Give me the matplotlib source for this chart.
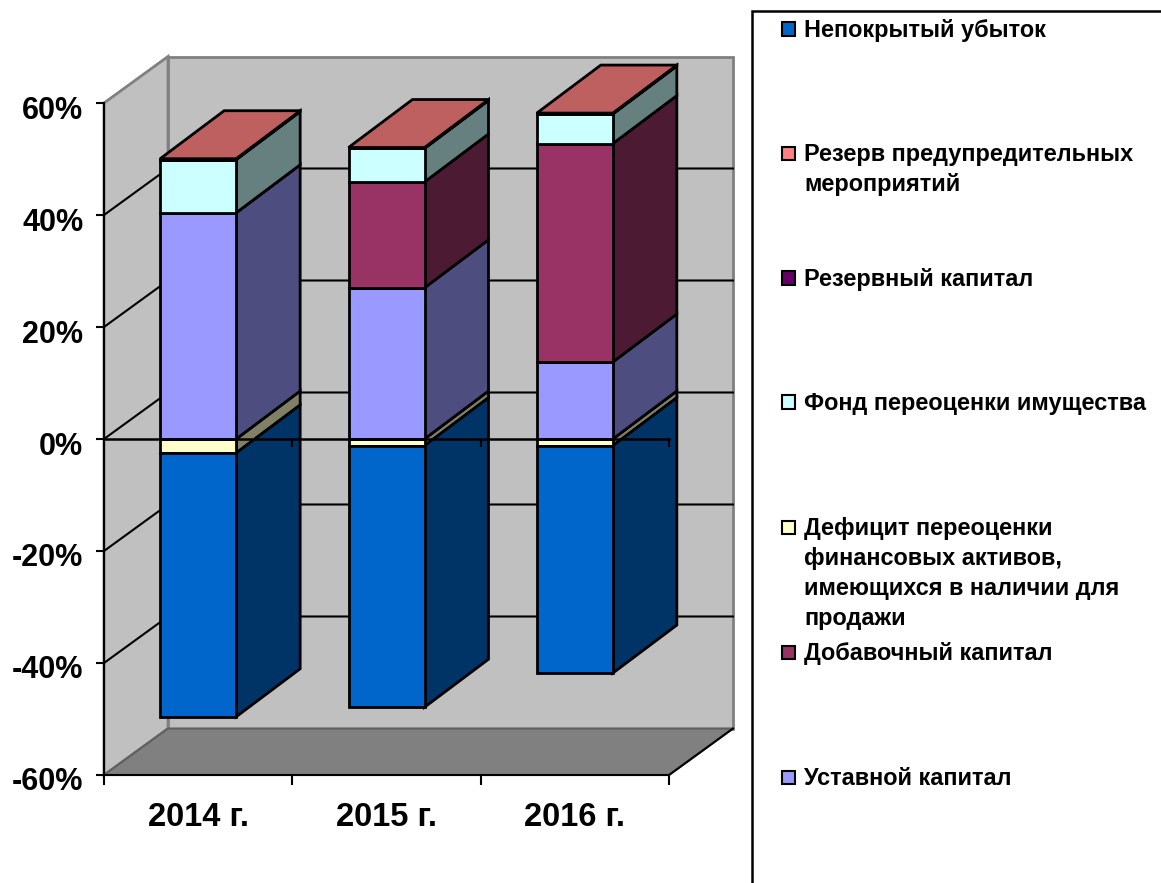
"""Stacked bars with the old Excel 3D look"""
import matplotlib
matplotlib.use("Agg")
import matplotlib.pyplot as plt
from matplotlib.patches import Polygon, Rectangle
from matplotlib.transforms import ScaledTranslation

plt.rcParams['font.family'] = ['Liberation Sans', 'DejaVu Sans']
plt.rcParams['font.weight'] = 'bold'

#%% data, % of the total
years = ['2014 г.', '2015 г.', '2016 г.']
uncovered_loss = [-47.1, -46.7, -40.6]
revaluation_deficit = [-2.5, -1.2, -1.2]
charter_capital = [40.4, 27.0, 13.75]
additional_capital = [0.0, 18.9, 39.0]
revaluation_fund = [9.5, 6.0, 5.3]
reserve_capital = [0.0, 0.0, 0.0]
prevention_reserve = [0.15, 0.15, 0.15]

y_ticks = [-60, -40, -20, 0, 20, 40, 60]

# negative part is stacked down from zero, positive part up from zero
neg_series = [(revaluation_deficit, '#ffffcc', '#808066'),
              (uncovered_loss, '#0066cc', '#003366')]
pos_series = [(charter_capital, '#9999ff', '#4d4d80'),
              (additional_capital, '#993366', '#4d1a33'),
              (revaluation_fund, '#ccffff', '#668080'),
              (reserve_capital, '#660066', '#330033'),
              (prevention_reserve, '#ff8080', '#806060')]

legend_items = [('Непокрытый убыток', '#0066cc', 29),
                ('Резерв предупредительных\nмероприятий', '#ff8080', 153),
                ('Резервный капитал', '#660066', 278),
                ('Фонд переоценки имущества', '#ccffff', 402),
                ('Дефицит переоценки\nфинансовых активов,\nимеющихся в наличии для\nпродажи', '#ffffcc', 527),
                ('Добавочный капитал', '#993366', 652),
                ('Уставной капитал', '#9999ff', 777)]

#%% figure
W, H = 1161, 883
fig = plt.figure(figsize=(W / 100, H / 100), dpi=100)
ax = fig.add_axes([104 / W, (H - 775) / H, 565 / W, 672 / H])
ax.set_xlim(0, 3)
ax.set_ylim(-60, 60)

# depth of the fake 3D box, in data units
DX = 64 / (565 / 3)
DY = 46.5 / (672 / 120)
BAR_DY = 48 / (672 / 120)
BAR_W = 76 / (565 / 3)


def poly(points, face, edge='black', lw=2, z=3):
    ax.add_patch(Polygon(points, closed=True, facecolor=face, edgecolor=edge,
                         linewidth=lw, zorder=z, clip_on=False, joinstyle='miter'))


#%% walls and floor
poly([(0, -60), (DX, -60 + DY), (DX, 60 + DY), (0, 60)], '#c0c0c0', '#808080', 2, 1)
poly([(DX, -60 + DY), (3 + DX, -60 + DY), (3 + DX, 60 + DY), (DX, 60 + DY)], '#c0c0c0', '#808080', 2, 1)
poly([(0, -60), (DX, -60 + DY), (3 + DX, -60 + DY), (3, -60)], '#808080', '#606060', 1.5, 1.2)
ax.plot([3, 3 + DX], [-60, -60 + DY], color='black', lw=1.5, zorder=1.3, clip_on=False)

for t in y_ticks[1:-1]:
    ax.plot([0, DX, 3 + DX], [t, t + DY, t + DY], color='black', lw=1.5, zorder=1.5, clip_on=False)


#%% bars
def draw_segment(x, y0, y1, front, side):
    poly([(x + BAR_W, y0), (x + BAR_W + DX, y0 + BAR_DY), (x + BAR_W + DX, y1 + BAR_DY), (x + BAR_W, y1)], side, z=3)
    poly([(x, y0), (x + BAR_W, y0), (x + BAR_W, y1), (x, y1)], front, z=3.2)


for i in range(len(years)):
    x = i + 0.5 - BAR_W / 2
    low = 0
    for values, front, side in neg_series:
        draw_segment(x, low, low + values[i], front, side)
        low += values[i]
    top = 0
    for values, front, side in pos_series:
        draw_segment(x, top, top + values[i], front, side)
        top += values[i]
    # top face takes the colour of the last series, shaded
    poly([(x, top), (x + BAR_W, top), (x + BAR_W + DX, top + BAR_DY), (x + DX, top + BAR_DY)], '#bf6060', z=3.4)

# front zero line with its ticks runs over the bars
ax.plot([0, 3], [0, 0], color='black', lw=1.8, zorder=5, clip_on=False)
ax.vlines([1, 2, 3], -8 * 120 / 672, 0, color='black', lw=1.5, zorder=5, clip_on=False)

#%% axes
for s in ['top', 'right']:
    ax.spines[s].set_visible(False)
for s in ['left', 'bottom']:
    ax.spines[s].set_linewidth(1.5)
    ax.spines[s].set_zorder(2)
ax.set_yticks(y_ticks)
ax.set_yticklabels([f'{t}%' for t in y_ticks], fontsize=22, fontweight='bold')
ax.tick_params(axis='y', length=6, width=1.5, pad=9)
# the reference sets the value labels a little below their ticks
for lab in ax.get_yticklabels():
    lab.set_transform(lab.get_transform() + ScaledTranslation(0, -4 / 100, fig.dpi_scale_trans))
ax.set_xticks([0, 1, 2, 3])
ax.set_xticklabels([])
ax.tick_params(axis='x', length=7, width=1.5)
ax.set_xticks([0.5, 1.5, 2.5], minor=True)
ax.set_xticklabels(years, minor=True, fontsize=23.5, fontweight='bold')
ax.tick_params(axis='x', which='minor', length=0, pad=19.5)

#%% legend, placed by hand: it runs off the figure on the right and bottom
fig.add_artist(Rectangle((752 / W, -0.05), 0.5, 1 - 11 / H + 0.05, transform=fig.transFigure,
                         facecolor='white', edgecolor='black', linewidth=1.8, zorder=0))
for label, color, yc in legend_items:
    fig.add_artist(Rectangle((782 / W, 1 - (yc + 6.5) / H), 13 / W, 13 / H, transform=fig.transFigure,
                             facecolor=color, edgecolor='black', linewidth=1.5))
    fig.text(804 / W, 1 - (yc - 10) / H, label, fontsize=16.9, fontweight='bold', va='top', ha='left',
             linespacing=1.39)

plt.savefig('out.png', dpi=100)
